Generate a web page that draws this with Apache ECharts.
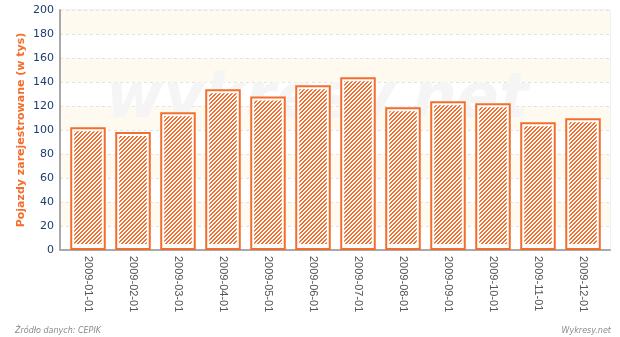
<!DOCTYPE html>
<html>
<head>
<meta charset="utf-8">
<script src="https://cdn.jsdelivr.net/npm/echarts@6/dist/echarts.min.js"></script>
<style>
html,body{margin:0;padding:0;background:#fff;}
#c{width:620px;height:337px;}
</style>
</head>
<body>
<div id="c"></div>
<script>
const categories = ['2009-01-01','2009-02-01','2009-03-01','2009-04-01','2009-05-01','2009-06-01','2009-07-01','2009-08-01','2009-09-01','2009-10-01','2009-11-01','2009-12-01'];
const values = [102.2, 98.3, 114.7, 133.9, 128.0, 137.2, 143.9, 118.9, 123.9, 122.2, 106.4, 109.7];
const yTicks = [0, 20, 40, 60, 80, 100, 120, 140, 160, 180, 200];
const catIndex = categories.map((c, i) => i);

const ORANGE = '#f36d2c';
const pc = document.createElement('canvas');
pc.width = 4; pc.height = 4;
const pctx = pc.getContext('2d');
pctx.fillStyle = '#ffffff';
pctx.fillRect(0,0,4,4);
pctx.fillStyle = ORANGE;
for (let x = 0; x < 4; x++) for (let y = 0; y < 4; y++) {
  const k = (x + y) % 4;
  if (k === 0 || k === 1) pctx.fillRect(x, y, 1, 1);
}

const chart = echarts.init(document.getElementById('c'), null, {renderer:'canvas'});
chart.setOption({
  animation:false,
  backgroundColor:'#ffffff',
  grid:{left:60,right:10,top:10,bottom:87,show:true,borderColor:'#e4e4e4',borderWidth:1,backgroundColor:'transparent'},
  graphic:[
    {type:'text',left:106,top:70,z:1,silent:true,
     style:{text:'wykresy.net',fill:'#f5f5f5',font:'italic bold 62px "DejaVu Sans"'}},
    {type:'text',left:15,top:327,style:{text:'Źródło danych: CEPIK',fill:'#8a8a8a',font:'italic 8px "DejaVu Sans"'}},
    {type:'text',right:9,top:327,style:{text:'Wykresy.net',fill:'#8a8a8a',font:'italic 8px "DejaVu Sans"'}}
  ],
  xAxis:{
    type:'value',min:-0.622,max:11.6,
    axisLine:{show:true,onZero:false,lineStyle:{color:'#a9a9a9',width:2}},
    axisTick:{show:false},
    splitLine:{show:false},
    axisLabel:{rotate:-90,color:'#555',fontFamily:'Liberation Sans',fontSize:11,margin:6,
      customValues:catIndex,
      formatter:function(v){return categories[Math.round(v)] || '';}}
  },
  yAxis:{
    type:'value',min:0,max:200,interval:20,
    name:'Pojazdy zarejestrowane (w tys)',nameLocation:'middle',nameGap:33,nameMoveOverlap:false,
    nameTextStyle:{color:ORANGE,fontWeight:'bold',fontFamily:'DejaVu Sans',fontSize:11},
    axisLine:{show:true,onZero:false,lineStyle:{color:'#a9a9a9',width:2}},
    axisTick:{show:false},
    axisLabel:{color:'#1c3d70',fontFamily:'DejaVu Sans',fontSize:11,margin:6,
      formatter:function(v){return yTicks.indexOf(v)>=0?String(v):'';}},
    splitLine:{show:true,lineStyle:{color:'#e2e2e2',type:[3,3]}},
    splitArea:{show:true,areaStyle:{color:['#ffffff','#fffaf0']}}
  },
  series:[{
    type:'custom',
    z:3,
    data:values.map((v,i)=>[i,v]),
    encode:{x:0,y:1},
    renderItem:function(params,api){
      const idx=api.value(0), v=api.value(1);
      const top=api.coord([idx,v]);
      const bot=api.coord([idx,0]);
      const w=api.size([1,0])[0]*0.745;
      const x0=top[0]-w/2;
      const y0=top[1]+1;
      const h=bot[1]-y0-1;
      return {type:'group',children:[
        {type:'rect',shape:{x:x0,y:y0,width:w,height:h},
         style:{fill:'#ffffff',stroke:ORANGE,lineWidth:2}},
        {type:'rect',shape:{x:x0+3,y:y0+3,width:w-6,height:h-8},
         style:{fill:{image:pc,repeat:'repeat'}}}
      ]};
    }
  }]
});
</script>
</body>
</html>
